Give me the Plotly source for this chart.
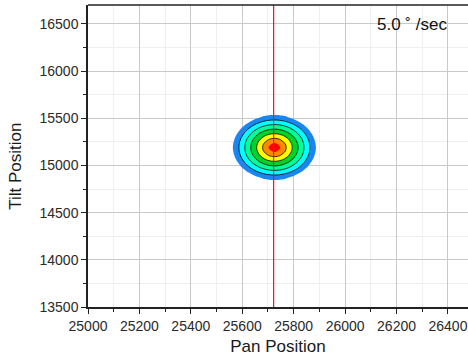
import plotly.graph_objects as go

# ---- data ----
pan_grid = [25525, 25565, 25605, 25625, 25645, 25665, 25685, 25705, 25725,
            25745, 25765, 25785, 25805, 25825, 25845, 25885, 25925]
tilt_grid = [14790, 14870, 14950, 14990, 15030, 15070, 15110, 15150, 15190,
             15230, 15270, 15310, 15350, 15390, 15430, 15510, 15590]
intensity = [
    [0, 0, 0, 0, 0, 0, 0, 0, 0, 0, 0, 0, 0, 0, 0, 0, 0],
    [0, 0, 0, 0.11, 0.55, 0.91, 1.19, 1.35, 1.41, 1.35, 1.19, 0.91, 0.55, 0.11, 0, 0, 0],
    [0, 0, 0.81, 1.42, 1.96, 2.41, 2.76, 2.98, 3.06, 2.98, 2.76, 2.41, 1.96, 1.42, 0.81, 0, 0],
    [0, 0, 1.35, 2.01, 2.61, 3.13, 3.53, 3.79, 3.88, 3.79, 3.53, 3.13, 2.61, 2.01, 1.35, 0, 0],
    [0, 0.30, 1.83, 2.54, 3.21, 3.80, 4.27, 4.59, 4.71, 4.59, 4.27, 3.80, 3.21, 2.54, 1.83, 0.30, 0],
    [0, 0.62, 2.23, 3.00, 3.73, 4.41, 4.98, 5.38, 5.53, 5.38, 4.98, 4.41, 3.73, 3.00, 2.23, 0.62, 0],
    [0, 0.85, 2.53, 3.35, 4.15, 4.91, 5.60, 6.14, 6.35, 6.14, 5.60, 4.91, 4.15, 3.35, 2.53, 0.85, 0],
    [0, 1.00, 2.72, 3.58, 4.43, 5.26, 6.08, 6.80, 7.18, 6.80, 6.08, 5.26, 4.43, 3.58, 2.72, 1.00, 0],
    [0, 1.04, 2.78, 3.65, 4.52, 5.39, 6.26, 7.13, 8.00, 7.13, 6.26, 5.39, 4.52, 3.65, 2.78, 1.04, 0],
    [0, 1.00, 2.72, 3.58, 4.43, 5.26, 6.08, 6.80, 7.18, 6.80, 6.08, 5.26, 4.43, 3.58, 2.72, 1.00, 0],
    [0, 0.85, 2.53, 3.35, 4.15, 4.91, 5.60, 6.14, 6.35, 6.14, 5.60, 4.91, 4.15, 3.35, 2.53, 0.85, 0],
    [0, 0.62, 2.23, 3.00, 3.73, 4.41, 4.98, 5.38, 5.53, 5.38, 4.98, 4.41, 3.73, 3.00, 2.23, 0.62, 0],
    [0, 0.30, 1.83, 2.54, 3.21, 3.80, 4.27, 4.59, 4.71, 4.59, 4.27, 3.80, 3.21, 2.54, 1.83, 0.30, 0],
    [0, 0, 1.35, 2.01, 2.61, 3.13, 3.53, 3.79, 3.88, 3.79, 3.53, 3.13, 2.61, 2.01, 1.35, 0, 0],
    [0, 0, 0.81, 1.42, 1.96, 2.41, 2.76, 2.98, 3.06, 2.98, 2.76, 2.41, 1.96, 1.42, 0.81, 0, 0],
    [0, 0, 0, 0.11, 0.55, 0.91, 1.19, 1.35, 1.41, 1.35, 1.19, 0.91, 0.55, 0.11, 0, 0, 0],
    [0, 0, 0, 0, 0, 0, 0, 0, 0, 0, 0, 0, 0, 0, 0, 0, 0],
]
marker_pan = [25722, 25722]
marker_tilt = [13500, 16700]
x_range = [25000, 26478]
y_range = [13500, 16700]
speed_label = "5.0 \u02da /sec"

band_colors = ["rgba(255,255,255,0)", "#1a86f2", "#00ffff", "#00ff96",
               "#00d42a", "#ffff00", "#ff8a00", "#ff0000"]
n = len(band_colors)
colorscale = []
for i, c in enumerate(band_colors):
    colorscale.append([i / n, c])
    colorscale.append([(i + 1) / n, c])

fig = go.Figure()
fig.add_trace(go.Contour(
    x=pan_grid, y=tilt_grid, z=intensity,
    contours=dict(start=1, end=7, size=1, coloring="fill"),
    colorscale=colorscale, showscale=False,
    line=dict(width=0, smoothing=1.3), hoverinfo="skip",
))
fig.add_trace(go.Contour(
    x=pan_grid, y=tilt_grid, z=intensity,
    contours=dict(start=2, end=6, size=1, coloring="none"),
    line=dict(width=0.8, color="#000000", smoothing=1.3),
    showscale=False, hoverinfo="skip",
))
fig.add_trace(go.Scatter(
    x=marker_pan, y=marker_tilt, mode="lines",
    line=dict(color="#ee1030", width=1.2), hoverinfo="skip",
))

font_family = "Liberation Sans, Arial, sans-serif"
axis_font = dict(family=font_family, size=14, color="#2a2a2a")
title_font = dict(family=font_family, size=17, color="#1a1a1a")
fig.update_xaxes(
    range=x_range, dtick=200, tick0=25000, tickformat="d",
    showgrid=True, gridcolor="#c9c9c9", gridwidth=1,
    ticks="outside", ticklen=5, tickcolor="#222", showline=True, linecolor="#222", linewidth=1.5,
    tickfont=axis_font, zeroline=False,
    minor=dict(dtick=100, tick0=25000, showgrid=True, gridcolor="#efefef", ticks="outside", ticklen=3, tickcolor="#222"),
    title=dict(text="Pan Position", font=title_font, standoff=8),
)
fig.update_yaxes(
    range=y_range, dtick=500, tick0=13500, tickformat="d",
    showgrid=True, gridcolor="#c9c9c9", gridwidth=1,
    ticks="outside", ticklen=5, tickcolor="#222", showline=True, linecolor="#222", linewidth=1.5,
    tickfont=axis_font, zeroline=False,
    minor=dict(dtick=250, tick0=13500, showgrid=True, gridcolor="#efefef", ticks="outside", ticklen=3, tickcolor="#222"),
)
fig.add_annotation(text="Tilt Position", xref="paper", yref="paper", x=-0.19, y=0.467,
                   xanchor="center", yanchor="middle", textangle=-90, showarrow=False,
                   font=title_font)
fig.add_shape(type="line", xref="paper", yref="paper", x0=0, x1=1, y0=1, y1=1,
              line=dict(color="#222", width=1.5))
fig.add_annotation(text=speed_label, xref="paper", yref="paper", x=0.95, y=0.934,
                   xanchor="right", yanchor="middle", showarrow=False,
                   font=dict(family="Liberation Sans Narrow, Arial Narrow, Liberation Sans, sans-serif",
                             size=17, color="#111"))
fig.update_layout(
    width=468, height=357, margin=dict(l=88, r=0, t=5, b=50),
    paper_bgcolor="white", plot_bgcolor="white", showlegend=False,
)
fig.write_html("out.html")
